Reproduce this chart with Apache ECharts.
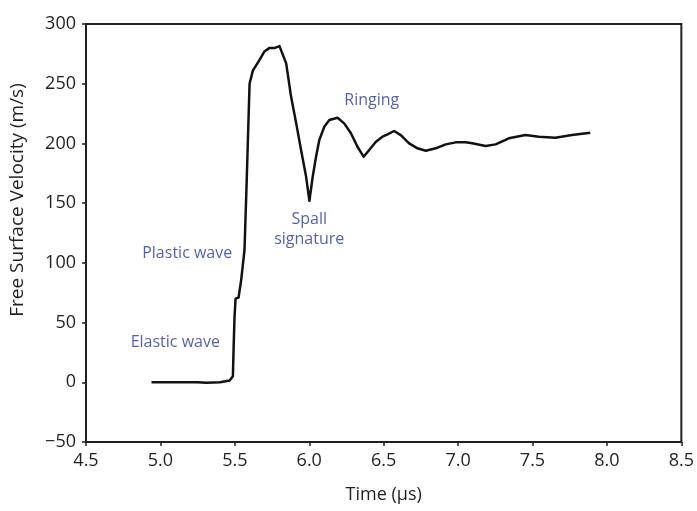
<!DOCTYPE html>
<html><head><meta charset="utf-8">
<script src="https://cdn.jsdelivr.net/npm/echarts@6/dist/echarts.min.js"></script>
<style>html,body{margin:0;padding:0;background:#fff}#c{width:697px;height:511px}</style>
</head><body><div id="c"></div>
<script>
// Time (µs)
const timeUs = [4.94,5.05,5.15,5.25,5.31,5.40,5.465,5.487,5.492,5.498,5.505,5.525,5.543,5.565,5.58,5.599,5.621,5.666,5.699,5.733,5.77,5.80,5.811,5.845,5.878,5.912,5.945,5.979,6.001,6.023,6.046,6.068,6.101,6.135,6.19,6.235,6.28,6.324,6.365,6.403,6.448,6.492,6.526,6.57,6.615,6.671,6.727,6.783,6.85,6.917,6.984,7.051,7.095,7.185,7.252,7.341,7.453,7.542,7.654,7.765,7.888];
// Free surface velocity (m/s)
const velocity = [0,0,0,0,-0.4,0,1.5,5,30,55,70,71,86,111,170,250,261,270,277,280,280,281.5,281,267,239,217,194.5,172,152,172,189,203,214,219.6,221.5,216.8,208.5,197.2,188.9,194.5,201.4,205.6,207.6,210.4,207,200.1,195.9,193.9,195.9,199.2,200.9,200.9,200.1,197.8,199.2,204.3,207,205.6,204.8,207,209];
const xTicks = {min:4.5, max:8.5, interval:0.5};
const yTicks = {min:-50, max:300, interval:50};
const notes = [
  {x:6.42, y:236, text:'Ringing'},
  {x:6.0, y:128, text:'Spall\nsignature'},
  {x:5.18, y:108, text:'Plastic wave'},
  {x:5.10, y:33, text:'Elastic wave'}
];
const chart = echarts.init(document.getElementById('c'));
const font = '"Open Sans", "Noto Sans", sans-serif';
chart.setOption({
  animation:false,
  backgroundColor:'#fff',
  grid:{left:86,right:14,top:24,bottom:69,show:true,borderColor:'#231f20',borderWidth:2,backgroundColor:'transparent'},
  xAxis:{type:'value',min:xTicks.min,max:xTicks.max,interval:xTicks.interval,
    name:'Time (μs)',nameLocation:'middle',nameGap:44,
    nameTextStyle:{color:'#231f20',fontSize:18,fontFamily:font},
    axisLine:{show:true,onZero:false,lineStyle:{color:'#231f20',width:2}},
    axisTick:{show:true,length:4,lineStyle:{color:'#231f20',width:1.5}},
    axisLabel:{color:'#231f20',fontSize:18,fontFamily:font,margin:10,formatter:v=>v.toFixed(1)},
    splitLine:{show:false}},
  yAxis:{type:'value',min:yTicks.min,max:yTicks.max,interval:yTicks.interval,
    name:'Free Surface Velocity (m/s)',nameLocation:'middle',nameGap:59,
    nameTextStyle:{color:'#231f20',fontSize:19,fontFamily:font,padding:[0,0,0,66]},
    axisLine:{show:true,onZero:false,lineStyle:{color:'#231f20',width:2}},
    axisTick:{show:true,length:4,lineStyle:{color:'#231f20',width:1.5}},
    axisLabel:{color:'#231f20',fontSize:18,fontFamily:font,margin:10,formatter:v=>String(v).replace('-','−')},
    splitLine:{show:false}},
  series:[
    {type:'line',data:timeUs.map((t,i)=>[t,velocity[i]]),showSymbol:false,smooth:false,
     lineStyle:{color:'#111',width:2.5,join:'round'}},
    {type:'scatter',data:notes.map(n=>({value:[n.x,n.y],label:{formatter:n.text}})),symbolSize:0,
     label:{show:true,position:'inside',color:'#2b3990',fontSize:16,fontFamily:font,lineHeight:20,align:'center'}}
  ]
});
</script></body></html>
